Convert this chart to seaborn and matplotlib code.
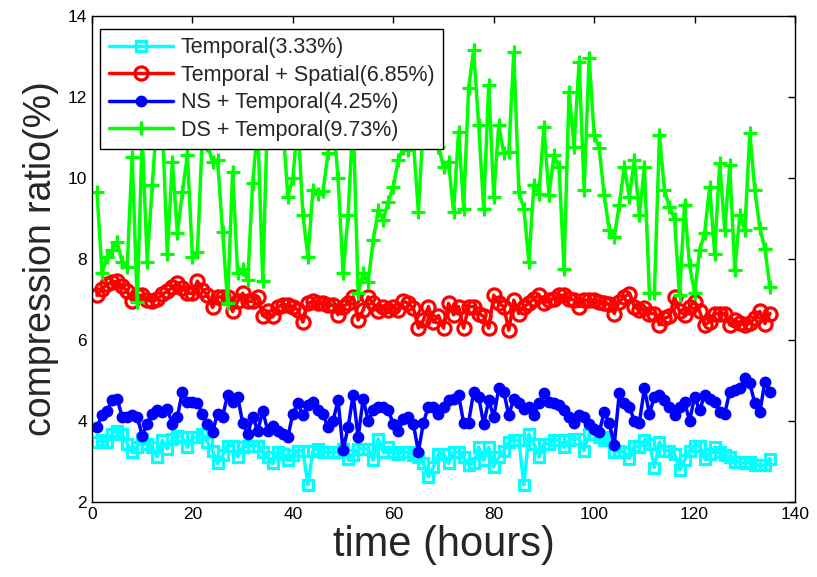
import numpy as np
import pandas as pd
import matplotlib
matplotlib.use("Agg")
import matplotlib.pyplot as plt
import seaborn as sns

hours = list(range(1, 136))

temporal = [3.48, 3.52, 3.48, 3.68, 3.76, 3.68, 3.44, 3.23, 3.35, 3.56,
            3.44, 3.35, 3.11, 3.52, 3.31, 3.56, 3.64, 3.60, 3.35, 3.60,
            3.60, 3.68, 3.48, 3.27, 2.95, 3.15, 3.39, 3.39, 3.11, 3.35,
            3.39, 3.39, 3.39, 3.23, 3.11, 2.95, 3.23, 3.19, 3.03, 3.15,
            3.27, 3.27, 2.42, 3.27, 3.31, 3.23, 3.23, 3.23, 3.23, 3.31,
            3.07, 3.15, 3.31, 3.31, 3.31, 3.03, 3.56, 3.23, 3.35, 3.23,
            3.19, 3.23, 3.23, 3.15, 3.11, 2.95, 2.62, 2.87, 3.19, 3.19,
            2.95, 3.23, 3.23, 3.11, 2.91, 2.95, 3.35, 3.03, 3.35, 2.87,
            3.11, 3.27, 3.48, 3.52, 3.52, 2.42, 3.68, 3.44, 3.11, 3.44,
            3.44, 3.52, 3.52, 3.35, 3.52, 3.56, 3.56, 3.27, 3.68, 3.68,
            3.60, 3.52, 3.60, 3.23, 3.27, 3.23, 3.07, 3.39, 3.35, 3.52,
            3.44, 2.85, 3.48, 3.27, 3.27, 3.19, 2.79, 3.03, 3.27, 3.39,
            3.39, 3.07, 3.19, 3.35, 3.23, 3.15, 3.11, 2.99, 2.99, 2.95,
            2.99, 2.91, 2.91, 2.91, 3.07]

temporal_spatial = [7.10, 7.25, 7.38, 7.42, 7.45, 7.33, 7.20, 6.95, 7.10, 7.10,
                    6.98, 6.95, 7.00, 7.12, 7.20, 7.30, 7.40, 7.28, 7.15, 7.15,
                    7.45, 7.23, 7.10, 6.80, 7.06, 7.06, 7.06, 6.70, 6.95, 7.15,
                    6.95, 6.95, 7.06, 6.60, 6.70, 6.58, 6.82, 6.86, 6.86, 6.82,
                    6.74, 6.44, 6.90, 6.95, 6.90, 6.90, 6.86, 6.86, 6.62, 6.82,
                    6.90, 7.06, 6.49, 6.74, 7.06, 6.90, 6.70, 6.82, 6.74, 6.82,
                    6.74, 6.95, 6.90, 6.78, 6.29, 6.49, 6.82, 6.44, 6.60, 6.29,
                    6.90, 6.62, 6.82, 6.29, 6.82, 6.82, 6.65, 6.58, 6.29, 7.10,
                    6.90, 6.82, 6.24, 6.98, 6.65, 6.82, 6.90, 7.02, 7.10, 6.90,
                    6.98, 7.02, 7.10, 7.10, 7.02, 6.98, 6.82, 6.98, 6.98, 6.98,
                    6.94, 6.90, 6.88, 6.65, 6.94, 7.06, 7.14, 6.82, 6.74, 6.78,
                    6.65, 6.65, 6.37, 6.53, 6.58, 7.06, 6.70, 6.62, 6.82, 6.94,
                    6.70, 6.37, 6.45, 6.65, 6.65, 6.65, 6.37, 6.49, 6.41, 6.37,
                    6.41, 6.53, 6.70, 6.40, 6.65]

ns_temporal = [3.85, 4.14, 4.25, 4.51, 4.55, 4.10, 4.10, 4.14, 4.10, 3.64,
               3.92, 4.18, 4.26, 4.22, 4.30, 3.92, 4.10, 4.72, 4.47, 4.47,
               4.43, 4.18, 3.92, 3.72, 4.18, 4.10, 4.64, 4.47, 4.60, 3.96,
               3.68, 4.10, 3.76, 4.24, 3.76, 3.88, 3.76, 3.68, 3.60, 4.18,
               4.43, 4.14, 4.39, 4.47, 4.26, 4.18, 3.84, 4.00, 4.51, 3.28,
               3.84, 4.64, 3.60, 4.55, 4.00, 4.26, 4.35, 4.35, 4.26, 3.92,
               3.76, 4.04, 4.10, 3.92, 3.24, 3.96, 4.35, 4.35, 4.18, 4.35,
               4.51, 4.55, 4.64, 3.96, 3.96, 4.72, 4.60, 3.92, 4.51, 4.10,
               4.80, 4.72, 4.14, 4.55, 4.43, 4.30, 4.35, 4.14, 4.43, 4.68,
               4.47, 4.43, 4.39, 4.26, 4.10, 3.96, 4.14, 4.10, 3.92, 3.80,
               3.72, 4.22, 3.94, 3.40, 4.68, 4.43, 4.35, 4.00, 3.96, 4.80,
               4.18, 4.60, 4.64, 4.51, 4.35, 4.14, 4.35, 4.47, 4.00, 4.60,
               4.26, 4.64, 4.55, 4.47, 4.22, 4.18, 4.72, 4.76, 4.80, 5.05,
               4.93, 4.43, 4.22, 4.97, 4.72]

ds_temporal = [9.65, 7.64, 8.05, 8.21, 8.42, 7.93, 7.80, 10.52, 6.94, 11.0,
               7.93, 9.82, 11.6, 11.4, 8.13, 10.40, 8.63, 9.65, 10.56, 8.05,
               8.17, 11.1, 10.81, 10.40, 10.44, 8.67, 6.92, 10.15, 7.64, 7.76,
               7.47, 9.86, 11.3, 7.45, 11.8, 11.5, 11.9, 11.3, 9.53, 9.99,
               11.4, 9.08, 8.05, 9.70, 9.61, 9.67, 10.60, 11.5, 9.99, 7.64,
               9.08, 11.5, 7.15, 7.64, 7.43, 8.46, 9.20, 8.96, 9.41, 9.78,
               10.44, 10.73, 10.69, 10.9, 9.16, 11.4, 11.3, 11.0, 10.77, 10.27,
               10.4, 9.16, 11.14, 9.24, 12.21, 13.15, 11.30, 9.24, 12.29, 9.53,
               11.30, 10.60, 10.64, 13.11, 9.65, 9.24, 7.93, 9.82, 9.61, 11.26,
               9.57, 10.56, 10.27, 7.76, 12.12, 10.77, 12.86, 9.69, 12.95, 11.06,
               10.73, 9.57, 8.71, 8.54, 9.33, 10.27, 9.53, 10.44, 9.08, 10.27,
               7.15, 7.15, 11.06, 9.69, 9.28, 8.99, 7.10, 9.33, 7.84, 7.15,
               8.21, 8.63, 9.78, 8.13, 10.36, 8.71, 10.31, 7.72, 9.08, 8.71,
               11.10, 9.69, 8.75, 8.25, 7.30]

labels = ["Temporal(3.33%)", "Temporal + Spatial(6.85%)",
          "NS + Temporal(4.25%)", "DS + Temporal(9.73%)"]
x_ticks = [0, 20, 40, 60, 80, 100, 120, 140]
y_ticks = [2, 4, 6, 8, 10, 12, 14]

sns.set_style("white")
plt.rcParams["font.family"] = ["Liberation Sans", "DejaVu Sans"]

fig = plt.figure(figsize=(8.17, 5.77), dpi=100)
ax = fig.add_axes([0.1126, 0.130, 0.8605, 0.843])

CYAN, RED, BLUE, GREEN = (0, 1, 1), (1, 0, 0), (0, 0, 1), (0, 1, 0)
series = [
    (temporal, labels[0], CYAN, dict(marker="s", markersize=7,
                                     markerfacecolor="none", markeredgewidth=2.3)),
    (temporal_spatial, labels[1], RED, dict(marker="o", markersize=9.5,
                                            markerfacecolor="none", markeredgewidth=2.3)),
    (ns_temporal, labels[2], BLUE, dict(marker="o", markersize=7.5,
                                        markerfacecolor=BLUE, markeredgewidth=1)),
    (ds_temporal, labels[3], GREEN, dict(marker="+", markersize=10,
                                         markeredgewidth=2.3)),
]

for vals, lab, col, kw in series:
    df = pd.DataFrame({"time": hours, "ratio": vals})
    sns.lineplot(data=df, x="time", y="ratio", ax=ax, label=lab, color=col,
                 markeredgecolor=col, linewidth=2.5, sort=False,
                 estimator=None, **kw)

ax.set_xlim(0, 140)
ax.set_ylim(2, 14)
ax.set_xticks(x_ticks)
ax.set_yticks(y_ticks)
ax.tick_params(direction="in", length=5, width=1, top=True, right=True,
               labelsize=12.5, colors="black")
for s in ax.spines.values():
    s.set_color("black")
    s.set_linewidth(1.0)
ax.set_xlabel("time (hours)", fontsize=30, labelpad=2)
ax.set_ylabel("compression ratio(%)", fontsize=27, labelpad=6)

leg = ax.legend(loc="upper left", bbox_to_anchor=(0.0114, 0.973),
                borderaxespad=0, fontsize=15.5, frameon=True, fancybox=False,
                framealpha=1, edgecolor="black", handlelength=3.0,
                handletextpad=0.35, labelspacing=0.3, borderpad=0.4)
leg.get_frame().set_linewidth(1.0)

fig.savefig("out.png", dpi=100)
